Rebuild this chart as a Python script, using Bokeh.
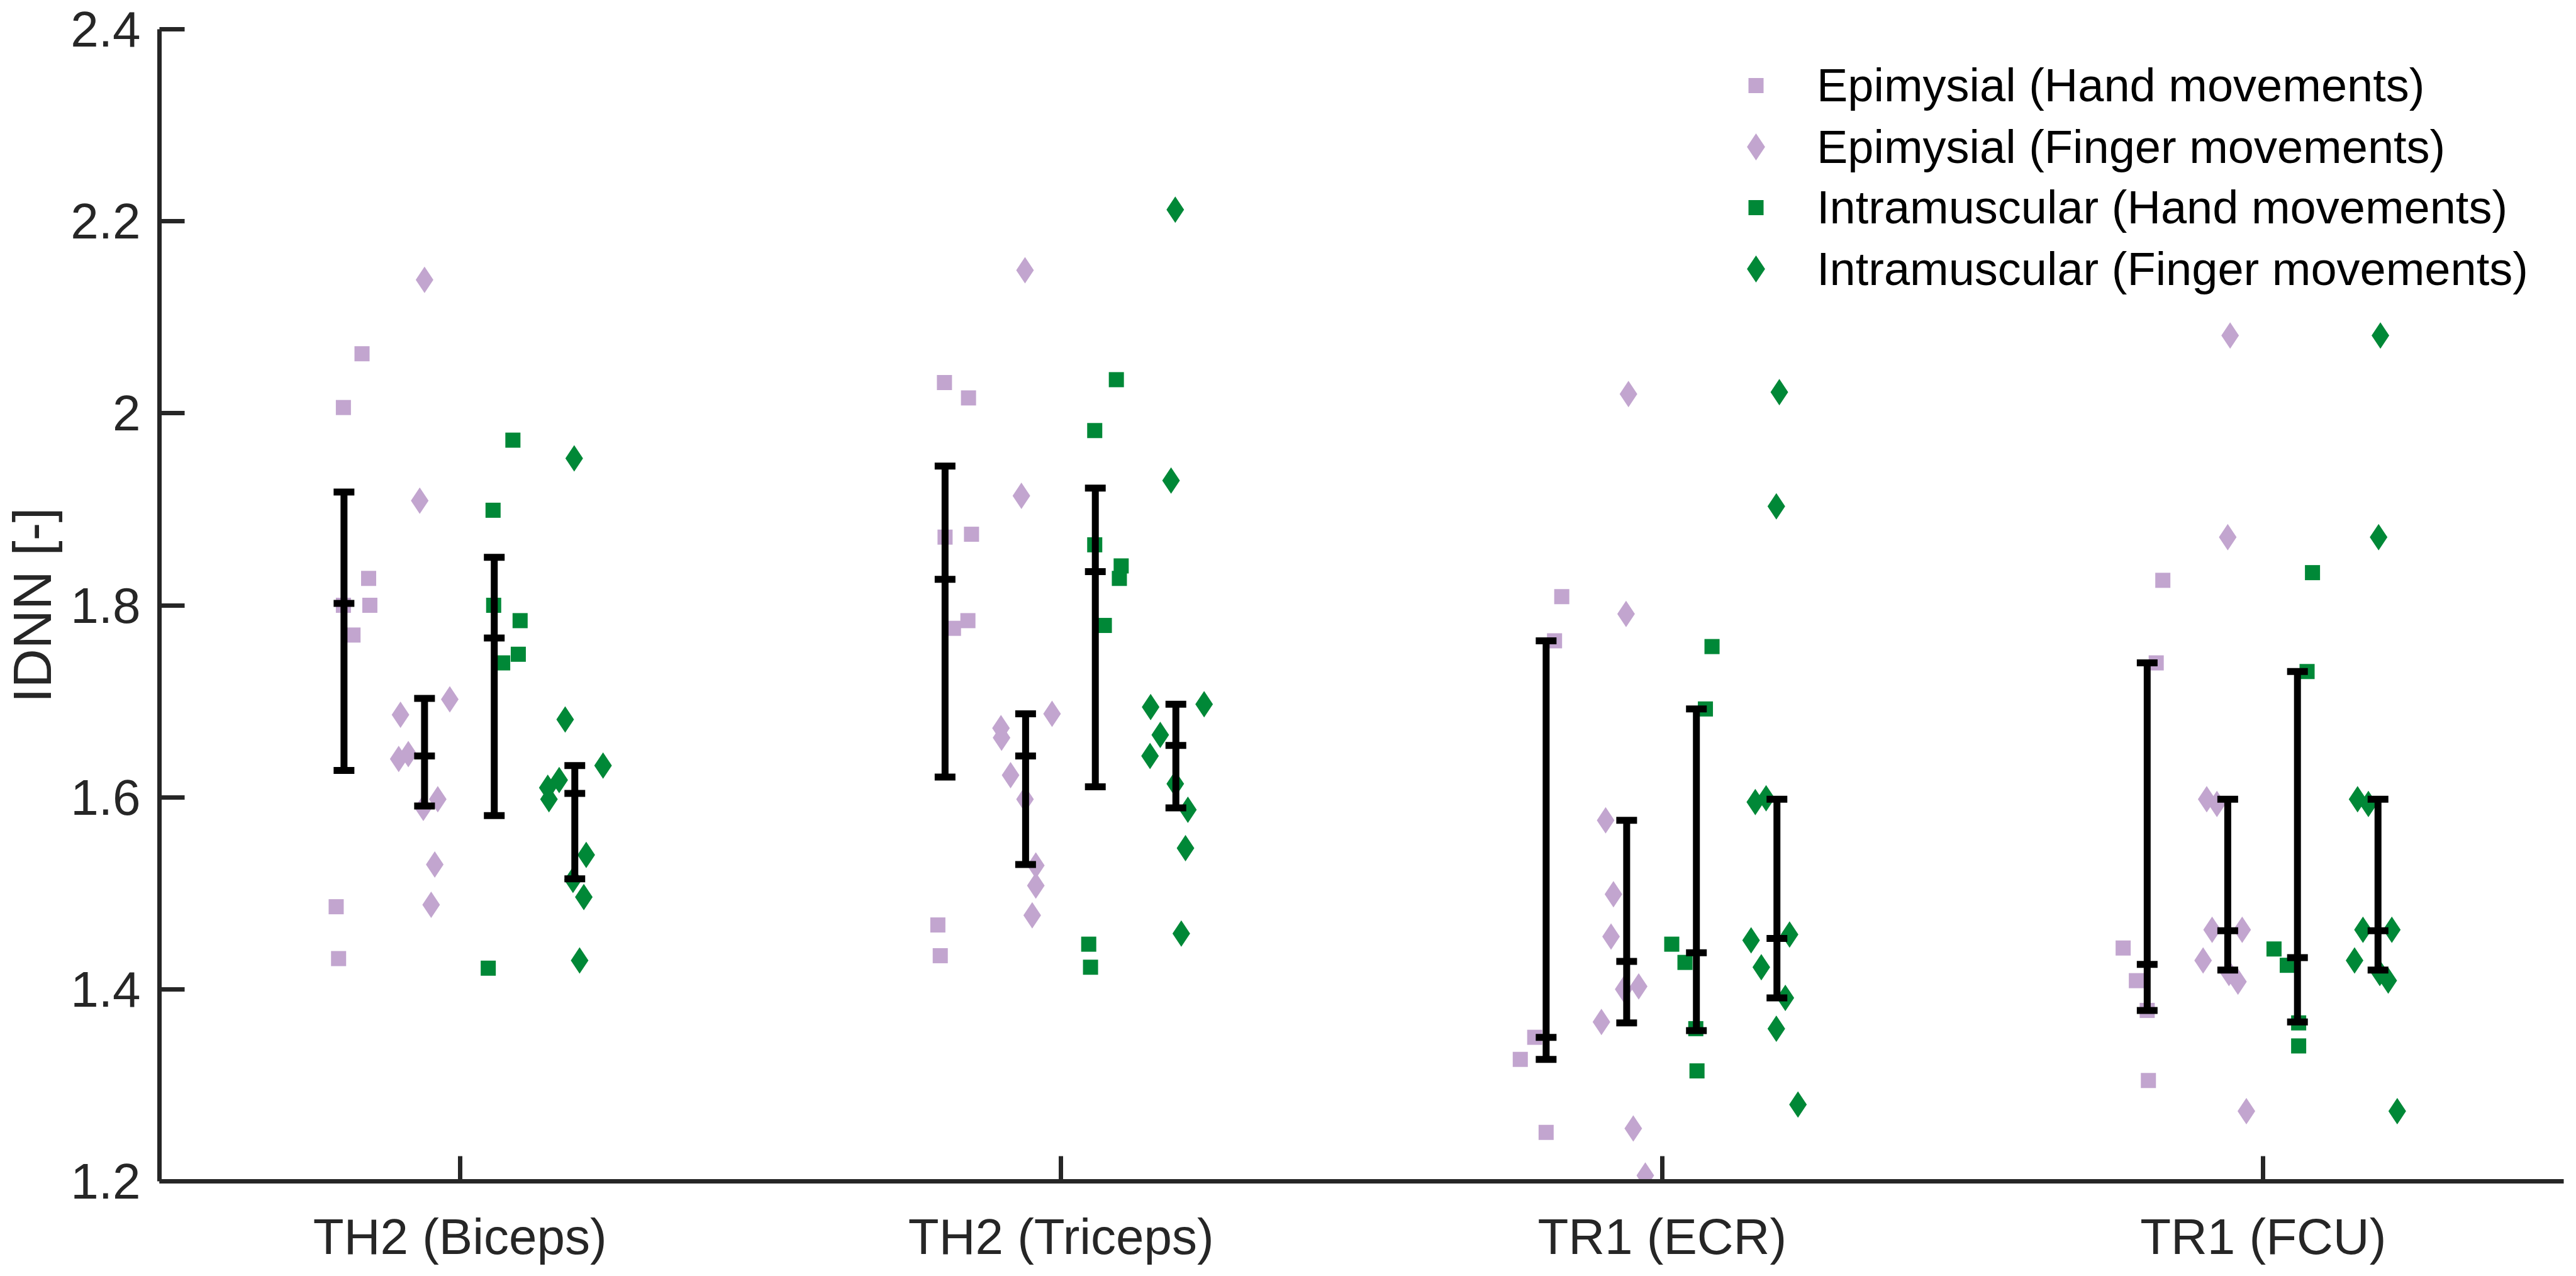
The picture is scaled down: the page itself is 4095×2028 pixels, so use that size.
from bokeh.plotting import figure
from bokeh.models import (Range1d, FixedTicker, CustomJSTickFormatter, Whisker, TeeHead,
                          ColumnDataSource, Legend, LegendItem)
from bokeh.embed import file_html
from bokeh.resources import INLINE

# ---------------- data ----------------
categories = ["TH2 (Biceps)", "TH2 (Triceps)", "TR1 (ECR)", "TR1 (FCU)"]
cat_pos = [1, 2, 3, 4]
y_ticks = [1.2, 1.4, 1.6, 1.8, 2.0, 2.2, 2.4]

series_labels = ["Epimysial (Hand movements)", "Epimysial (Finger movements)",
                 "Intramuscular (Hand movements)", "Intramuscular (Finger movements)"]

# individual (jittered) observations: x position on category axis, IDNN value
epi_hand_x = [0.837, 0.806, 0.848, 0.850, 0.806, 0.822, 0.794, 0.798,
              1.806, 1.846, 1.807, 1.851, 1.845, 1.821, 1.795, 1.799,
              2.833, 2.821, 2.788, 2.764, 2.807,
              3.833, 3.822, 3.767, 3.789, 3.807, 3.809]
epi_hand_y = [2.062, 2.006, 1.828, 1.800, 1.800, 1.769, 1.486, 1.432,
              2.032, 2.016, 1.871, 1.874, 1.784, 1.776, 1.467, 1.435,
              1.809, 1.763, 1.350, 1.327, 1.251,
              1.826, 1.740, 1.443, 1.409, 1.378, 1.305]

epi_finger_x = [0.941, 0.933, 0.983, 0.901, 0.898, 0.914, 0.963, 0.939, 0.958, 0.952,
                1.940, 1.934, 1.985, 1.900, 1.901, 1.916, 1.940, 1.958, 1.958, 1.952,
                2.944, 2.940, 2.906, 2.919, 2.915, 2.961, 2.936, 2.899, 2.952, 2.972,
                3.945, 3.941, 3.906, 3.923, 3.915, 3.965, 3.900, 3.943, 3.958, 3.972]
epi_finger_y = [2.139, 1.909, 1.702, 1.686, 1.640, 1.645, 1.598, 1.589, 1.530, 1.488,
                2.149, 1.914, 1.687, 1.672, 1.662, 1.623, 1.598, 1.529, 1.508, 1.477,
                2.020, 1.791, 1.576, 1.499, 1.455, 1.403, 1.400, 1.366, 1.255, 1.206,
                2.081, 1.871, 1.598, 1.593, 1.462, 1.462, 1.430, 1.417, 1.408, 1.273]

intra_hand_x = [1.088, 1.055, 1.056, 1.100, 1.071, 1.097, 1.047,
                2.092, 2.056, 2.056, 2.100, 2.097, 2.072, 2.046, 2.049,
                3.083, 3.072, 3.016, 3.038, 3.056, 3.058,
                4.082, 4.073, 4.018, 4.040, 4.059, 4.059]
intra_hand_y = [1.972, 1.899, 1.800, 1.784, 1.740, 1.749, 1.422,
                2.035, 1.982, 1.863, 1.841, 1.828, 1.779, 1.447, 1.423,
                1.757, 1.692, 1.447, 1.428, 1.359, 1.315,
                1.834, 1.731, 1.442, 1.425, 1.365, 1.341]

intra_finger_x = [1.190, 1.175, 1.238, 1.165, 1.146, 1.148, 1.210, 1.188, 1.206, 1.199,
                  2.190, 2.183, 2.149, 2.238, 2.165, 2.148, 2.190, 2.211, 2.207, 2.200,
                  3.195, 3.190, 3.155, 3.173, 3.148, 3.212, 3.165, 3.205, 3.190, 3.226,
                  4.195, 4.192, 4.157, 4.175, 4.166, 4.214, 4.152, 4.194, 4.208, 4.223]
intra_finger_y = [1.953, 1.681, 1.633, 1.618, 1.610, 1.598, 1.540, 1.514, 1.496, 1.430,
                  2.212, 1.930, 1.694, 1.697, 1.665, 1.643, 1.614, 1.587, 1.547, 1.458,
                  2.022, 1.903, 1.595, 1.599, 1.451, 1.457, 1.423, 1.391, 1.359, 1.280,
                  2.081, 1.871, 1.598, 1.593, 1.462, 1.462, 1.430, 1.417, 1.409, 1.273]

# summary bars per series (one value per category): centre, lower, upper
bar_offsets = [-0.193, -0.059, 0.057, 0.191]
epi_hand_mid = [1.802, 1.827, 1.350, 1.426]
epi_hand_lo = [1.628, 1.621, 1.327, 1.378]
epi_hand_hi = [1.918, 1.945, 1.763, 1.740]
epi_finger_mid = [1.643, 1.643, 1.429, 1.461]
epi_finger_lo = [1.591, 1.530, 1.365, 1.420]
epi_finger_hi = [1.703, 1.687, 1.576, 1.598]
intra_hand_mid = [1.766, 1.835, 1.438, 1.433]
intra_hand_lo = [1.581, 1.611, 1.357, 1.366]
intra_hand_hi = [1.850, 1.922, 1.692, 1.731]
intra_finger_mid = [1.604, 1.654, 1.453, 1.461]
intra_finger_lo = [1.515, 1.589, 1.391, 1.420]
intra_finger_hi = [1.633, 1.697, 1.598, 1.598]

# ---------------- styling ----------------
LAV = "#c2a5cf"
GRN = "#008837"
AX = "#262626"
FONT = "Liberation Sans"

p = figure(width=4079, height=2012, output_backend="svg", toolbar_location=None,
           x_range=Range1d(0.5, 4.5), y_range=Range1d(1.2, 2.4),
           min_border_left=244, min_border_right=4, min_border_top=46, min_border_bottom=135)
p.outline_line_color = None
p.xgrid.visible = False
p.ygrid.visible = False
p.background_fill_color = "white"

for ax in (p.xaxis[0], p.yaxis[0]):
    ax.axis_line_color = AX
    ax.axis_line_width = 7
    ax.major_tick_line_color = AX
    ax.major_tick_line_width = 7
    ax.major_tick_in = 40
    ax.major_tick_out = 0
    ax.minor_tick_line_color = None
    ax.major_label_text_font = FONT
    ax.major_label_text_font_size = "80px"
    ax.major_label_text_color = AX

p.xaxis.ticker = FixedTicker(ticks=cat_pos)
p.xaxis.major_label_overrides = {c: lab for c, lab in zip(cat_pos, categories)}
p.xaxis.major_label_standoff = 43

p.yaxis.ticker = FixedTicker(ticks=y_ticks)
p.yaxis.formatter = CustomJSTickFormatter(code="return String(Math.round(tick*10)/10);")
p.yaxis.major_label_standoff = 30
p.yaxis.axis_label = "IDNN [-]"
p.yaxis.axis_label_text_font = FONT
p.yaxis.axis_label_text_font_size = "86px"
p.yaxis.axis_label_text_font_style = "normal"
p.yaxis.axis_label_text_color = AX
p.yaxis.axis_label_standoff = 10

# ---------------- points ----------------
r1 = p.scatter(epi_hand_x, epi_hand_y, marker="square", size=24,
               fill_color=LAV, line_color=None)
r2 = p.scatter(epi_finger_x, epi_finger_y, marker="diamond", size=42,
               fill_color=LAV, line_color=None)
r3 = p.scatter(intra_hand_x, intra_hand_y, marker="square", size=24,
               fill_color=GRN, line_color=None)
r4 = p.scatter(intra_finger_x, intra_finger_y, marker="diamond", size=42,
               fill_color=GRN, line_color=None)

# ---------------- summary bars ----------------
groups = [(epi_hand_mid, epi_hand_lo, epi_hand_hi),
          (epi_finger_mid, epi_finger_lo, epi_finger_hi),
          (intra_hand_mid, intra_hand_lo, intra_hand_hi),
          (intra_finger_mid, intra_finger_lo, intra_finger_hi)]
bx, bmid, blo, bhi = [], [], [], []
for off, (mid, lo, hi) in zip(bar_offsets, groups):
    for c, m, l, h in zip(cat_pos, mid, lo, hi):
        bx.append(c + off)
        bmid.append(m)
        blo.append(l)
        bhi.append(h)
bsrc = ColumnDataSource(data=dict(x=bx, mid=bmid, lo=blo, hi=bhi))

wh = Whisker(source=bsrc, base="x", lower="lo", upper="hi", dimension="height",
             line_color="black", line_width=11, level="overlay",
             upper_head=TeeHead(size=33, line_width=11, line_color="black"),
             lower_head=TeeHead(size=33, line_width=11, line_color="black"))
p.add_layout(wh)
p.scatter("x", "mid", source=bsrc, marker="dash", size=33, line_width=11,
          line_color="black", level="overlay")

# ---------------- legend (one box per entry so diamonds keep their larger size) ----
renderers = [r1, r2, r3, r4]
is_diamond = [False, True, False, True]
legend_bottoms = [1693, 1590, 1499, 1396]   # px from the frame bottom
for lab, r, dia, vy in zip(series_labels, renderers, is_diamond, legend_bottoms):
    if dia:
        gw, gh, lh, so, vx = 108, 108, 108, 43, 2484
    else:
        gw, gh, lh, so, vx = 60, 97, 97, 67, 2508
    lg = Legend(items=[LegendItem(label=lab, renderers=[r])],
                location=(vx, vy), orientation="vertical",
                label_text_font=FONT, label_text_font_size="74px", label_text_color="black",
                glyph_width=gw, glyph_height=gh, label_height=lh, label_standoff=so,
                spacing=0, padding=0, margin=0,
                border_line_color=None, background_fill_alpha=0)
    p.add_layout(lg)

open("out.html", "w").write(file_html(p, INLINE))
